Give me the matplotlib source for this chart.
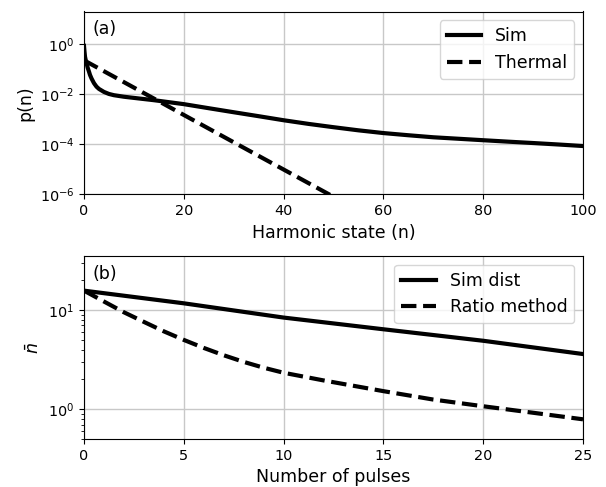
import matplotlib
matplotlib.use("Agg")
import matplotlib.pyplot as plt

# Panel (a): probability distribution over harmonic state
sim_n = [0, 0.1, 0.2, 0.35, 0.5, 0.75, 1.0, 1.2, 1.5, 2.0, 2.5, 3, 4, 5, 6, 8, 10, 14, 20, 25, 30, 35, 40, 45, 50, 55, 60, 65, 70, 75, 80, 85, 90, 95, 100]
sim_p = [0.85, 0.50, 0.316, 0.224, 0.178, 0.112, 0.0794, 0.0589, 0.0427, 0.0275, 0.020, 0.0162, 0.0123, 0.0102, 0.0091, 0.0079, 0.0071, 0.00575, 0.0040, 0.00275, 0.0019, 0.00132, 0.00091, 0.00065, 0.00048, 0.00036, 0.00028, 0.000229, 0.00019, 0.000166, 0.000145, 0.000127, 0.000112, 0.000098, 0.000085]
thermal_n = [0, 10, 20, 30, 40, 50]
thermal_p = [0.225, 0.0183, 0.00148, 0.00012, 9.8e-06, 8e-07]

# Panel (b): mean occupation vs number of pulses
pulses_sim = [0, 5, 10, 15, 20, 25]
nbar_sim = [15.7, 11.7, 8.4, 6.4, 4.9, 3.6]
pulses_ratio = [0, 1, 2, 3, 4, 5, 6, 7, 8, 9, 10, 12, 15, 17.5, 20, 22.5, 25]
nbar_ratio = [15.7, 12.2, 9.5, 7.6, 6.1, 5.0, 4.15, 3.5, 3.0, 2.62, 2.33, 1.95, 1.52, 1.25, 1.07, 0.92, 0.79]

fig, (ax1, ax2) = plt.subplots(2, 1, figsize=(6.06, 4.87), dpi=100)
fig.subplots_adjust(left=84/606, right=583/606, top=1-11.5/487, bottom=1-439/487, hspace=0.338)

lw = 3
tick_fs = 10.4
lab_fs = 12.5

ax1.semilogy(sim_n, sim_p, color="black", lw=lw, label="Sim")
ax1.semilogy(thermal_n, thermal_p, color="black", lw=lw, ls="--", label="Thermal")
ax1.set_xlim(0, 100)
ax1.set_ylim(1e-6, 20)
ax1.set_xlabel("Harmonic state (n)", fontsize=lab_fs)
ax1.set_ylabel("p(n)", fontsize=lab_fs)
ax1.grid(True, color="#c8c8c8", lw=1)
ax1.tick_params(labelsize=tick_fs)
ax1.legend(fontsize=lab_fs, loc="upper right")
ax1.text(0.018, 0.905, "(a)", transform=ax1.transAxes, fontsize=lab_fs, va="center", ha="left")

ax2.semilogy(pulses_sim, nbar_sim, color="black", lw=lw, label="Sim dist")
ax2.semilogy(pulses_ratio, nbar_ratio, color="black", lw=lw, ls="--", label="Ratio method")
ax2.set_xlim(0, 25)
ax2.set_ylim(0.5, 35)
ax2.set_xlabel("Number of pulses", fontsize=lab_fs)
ax2.set_ylabel(r"$\bar{n}$", fontsize=lab_fs)
ax2.grid(True, color="#c8c8c8", lw=1)
ax2.tick_params(labelsize=tick_fs)
ax2.legend(fontsize=lab_fs, loc="upper right")
ax2.text(0.018, 0.905, "(b)", transform=ax2.transAxes, fontsize=lab_fs, va="center", ha="left")

fig.savefig("out.png", dpi=100)
